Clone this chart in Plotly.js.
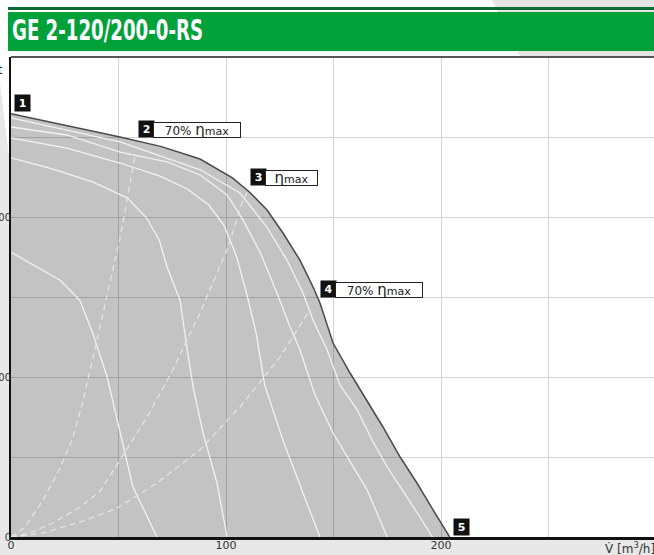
<!DOCTYPE html>
<html>
<head>
<meta charset="utf-8">
<script src="https://cdn.plot.ly/plotly-3.0.1.min.js"></script>
<style>html,body{margin:0;padding:0;background:#e8e8e8;}#chart{width:654px;height:555px;}</style>
</head>
<body>
<div id="chart"></div>
<script>
// ---- data (flow V in m3/h, total pressure dpt in Pa) ----
const chartTitle = "GE 2-120/200-0-RS";
const xTickVals = [0, 100, 200];
const yTickVals = [0, 200, 400];

// maximum speed curve (boundary of the operating area)
const outerX = [0, 25, 50.7, 70, 87.9, 103, 111, 119, 126.5, 134.4, 140.5, 143.7, 147.4, 149.8, 157.7, 165.6, 173, 181, 188.8, 196.3, 204];
const outerY = [529, 515, 500, 488, 472.5, 449, 431, 409, 380, 346, 312.5, 292.5, 262.5, 242.5, 205, 171, 137.5, 100, 67.5, 34, 0];

// reduced speed curves (white solid)
const speedE_X = [0, 50.7, 88, 106.5, 119, 128.4, 135.8, 140.5, 147, 153, 161, 168, 175, 182, 189, 196];
const speedE_Y = [524, 494, 459, 430, 387.5, 346, 305, 271, 234, 190, 159, 121, 87.5, 59, 30, 0];
const speedD_X = [0, 26, 50.7, 72.6, 88, 100.5, 108, 116, 123.7, 129.8, 134.4, 141.4, 149.8, 157.7, 165.6, 175];
const speedD_Y = [512.5, 502.5, 481, 469, 452.5, 427.5, 396, 355, 305, 262.5, 234, 177.5, 130, 94, 59, 0];
const speedC_X = [0, 26, 50.7, 69.3, 82, 92, 99, 105, 110, 114, 118, 126.5, 135.8, 143.7];
const speedC_Y = [499, 486, 467.5, 451, 435, 415, 390, 350, 300, 255, 190, 121, 55, 0];
const speedB_X = [0, 18, 38, 54, 63, 69, 72.6, 78.6, 82, 84.7, 89.3, 95.8, 100.5];
const speedB_Y = [474, 461, 444, 424, 399, 371, 337.5, 296, 234, 187.5, 130, 67.5, 0];
const speedA_X = [0, 10.2, 22.8, 32, 38, 44.7, 50.7, 56.7, 67.9];
const speedA_Y = [356, 340, 321, 296, 255, 200, 130, 62.5, 0];

// system / efficiency curves (white dashed)
const sys1X = [0, 6.5, 14.9, 22.8, 28.4, 33, 37.7, 41.9, 46.5, 51.2, 54, 56.3, 57.7];
const sys1Y = [0, 12.5, 46, 86, 121, 165, 219, 269, 321, 380, 421, 455, 477.5];
const sys2X = [0, 8.8, 19.5, 32.1, 41.4, 50.7, 63.3, 75.3, 87.9, 100.5, 107.9, 109.8];
const sys2Y = [0, 5, 17.5, 37.5, 57.5, 96, 150, 209, 280, 359, 421, 431];
const sys3X = [0, 14.9, 33.5, 49.3, 67.9, 87.9, 106.5, 125.1, 139.1];
const sys3Y = [0, 5, 20, 36, 67.5, 109, 162.5, 225, 284];

// operating point labels
const pointNums = ["1", "2", "3", "4", "5"];
const pointTexts = ["", "70% ", "", "70% ", ""];

// ---- layout helpers (pixel -> paper) ----
const ML = 11, MT = 57, PW = 643, PH = 480;
const xp = px => (px - ML) / PW;
const yp = py => 1 - (py - MT) / PH;

const solid = {color: '#f2f2f2', width: 1.3};
const dashed = {color: '#e4e4e4', width: 1.3, dash: '6px,4px'};

const traces = [
  {x: outerX, y: outerY, mode: 'lines', fill: 'tozeroy', fillcolor: 'rgba(0,0,0,0.235)',
   line: {color: '#4a4a4a', width: 1.5}},
  {x: speedE_X, y: speedE_Y, mode: 'lines', line: solid},
  {x: speedD_X, y: speedD_Y, mode: 'lines', line: solid},
  {x: speedC_X, y: speedC_Y, mode: 'lines', line: solid},
  {x: speedB_X, y: speedB_Y, mode: 'lines', line: solid},
  {x: speedA_X, y: speedA_Y, mode: 'lines', line: solid},
  {x: sys1X, y: sys1Y, mode: 'lines', line: dashed},
  {x: sys2X, y: sys2Y, mode: 'lines', line: dashed},
  {x: sys3X, y: sys3Y, mode: 'lines', line: dashed}
];

// label boxes: [num box left px, bottom py, text box width px]
const boxPos = [[14, 112, 0], [138, 138, 88], [250, 186, 53], [320, 298, 88], [453, 536, 0]];

const annotations = [];
boxPos.forEach((b, i) => {
  annotations.push({xref: 'paper', yref: 'paper', x: xp(b[0]), y: yp(b[1]), xanchor: 'left', yanchor: 'bottom',
    text: pointNums[i], showarrow: false, bgcolor: '#111', borderpad: 1, width: 13, height: 14,
    font: {family: 'DejaVu Sans', size: 11, color: '#fff', weight: 700}});
  if (b[2] > 0) {
    annotations.push({xref: 'paper', yref: 'paper', x: xp(b[0] + 15), y: yp(b[1]), xanchor: 'left', yanchor: 'bottom',
      text: pointTexts[i] + '<span style="font-size:15px">η</span><span style="font-size:11px">max</span>',
      showarrow: false, bgcolor: '#fff', bordercolor: '#222', borderwidth: 1, borderpad: 0,
      width: b[2] - 2, height: 14, align: 'center',
      font: {family: 'DejaVu Sans', size: 12, color: '#222'}});
  }
});

// banner title
annotations.push({xref: 'paper', yref: 'paper', x: xp(12), y: yp(31), xanchor: 'left', yanchor: 'middle',
  text: chartTitle, showarrow: false, name: 'bannerTitle',
  font: {family: 'DejaVu Sans Condensed, DejaVu Sans, sans-serif', size: 28, color: '#fff', weight: 700}});
// axis titles (cropped as in the reference)
annotations.push({xref: 'paper', yref: 'paper', x: xp(5), y: yp(70), xanchor: 'right', yanchor: 'middle',
  text: 'Δpt', showarrow: false, font: {family: 'DejaVu Sans', size: 12, color: '#333'}});
annotations.push({xref: 'paper', yref: 'paper', x: xp(657), y: yp(548), xanchor: 'right', yanchor: 'middle',
  text: 'V̇ [m<sup>3</sup>/h]', showarrow: false, font: {family: 'DejaVu Sans', size: 12, color: '#333'}});

const shapes = [
  {type: 'rect', xref: 'paper', yref: 'paper', x0: xp(0), x1: xp(654), y0: yp(56), y1: yp(0), fillcolor: '#fff', line: {width: 0}, layer: 'below'},
  {type: 'path', xref: 'paper', yref: 'paper', path: `M ${xp(492)} ${yp(0)} L ${xp(654)} ${yp(0)} L ${xp(654)} ${yp(56)} L ${xp(520)} ${yp(56)} Z`, fillcolor: '#e4e4e4', line: {width: 0}, layer: 'below'},
  {type: 'path', xref: 'paper', yref: 'paper', path: `M ${xp(0)} ${yp(56)} L ${xp(10)} ${yp(56)} L ${xp(10)} ${yp(165)} L ${xp(0)} ${yp(82)} Z`, fillcolor: '#fff', line: {width: 0}, layer: 'below'},
  {type: 'rect', xref: 'paper', yref: 'paper', x0: xp(8), x1: xp(654), y0: yp(10), y1: yp(7), fillcolor: '#0b6b34', line: {width: 0}},
  {type: 'rect', xref: 'paper', yref: 'paper', x0: xp(8), x1: xp(654), y0: yp(51), y1: yp(12), fillcolor: '#00a13b', line: {width: 0}},
  {type: 'line', xref: 'paper', yref: 'paper', x0: 0, x1: 1, y0: 1, y1: 1, line: {color: '#555', width: 2}}
];

const layout = {
  width: 654, height: 555,
  margin: {l: ML, r: 0, t: MT, b: 18, pad: 0},
  paper_bgcolor: '#e8e8e8', plot_bgcolor: '#fff',
  showlegend: false, hovermode: false,
  xaxis: {range: [0, PW / 2.15], tickmode: 'array', tickvals: xTickVals, ticktext: xTickVals.map(String),
    showgrid: true, gridcolor: '#d4d4d4', gridwidth: 1, zeroline: false,
    minor: {dtick: 50, tick0: 0, showgrid: true, gridcolor: '#d4d4d4', gridwidth: 1},
    showline: true, linecolor: '#111', linewidth: 2.5, ticks: '', ticklabelstandoff: -4,
    tickfont: {family: 'DejaVu Sans', size: 11, color: '#333'}},
  yaxis: {range: [0, 600], tickmode: 'array', tickvals: yTickVals, ticktext: yTickVals.map(String),
    showgrid: true, gridcolor: '#d4d4d4', gridwidth: 1, zeroline: false,
    minor: {dtick: 100, tick0: 0, showgrid: true, gridcolor: '#d4d4d4', gridwidth: 1},
    showline: true, linecolor: '#111', linewidth: 2, ticks: '', ticklabelstandoff: -4,
    tickfont: {family: 'DejaVu Sans', size: 10, color: '#333'}},
  annotations: annotations,
  shapes: shapes
};

Plotly.newPlot('chart', traces, layout, {displayModeBar: false, staticPlot: true}).then(gd => {
  // narrow the condensed banner title to the reference width, keeping its left edge
  const targetLeft = 12, targetWidth = 191;
  gd.querySelectorAll('text.annotation-text').forEach(t => {
    if (t.textContent === chartTitle) {
      const svg = t.ownerSVGElement;
      const svgBox = svg.getBoundingClientRect();
      t.setAttribute('textLength', String(targetWidth));
      t.setAttribute('lengthAdjust', 'spacingAndGlyphs');
      const after = t.getBoundingClientRect();
      const dx = (targetLeft + svgBox.left) - after.left;
      const cur = t.getAttribute('transform') || '';
      t.setAttribute('transform', cur + ' translate(' + dx.toFixed(1) + ',0)');
    }
  });
});
</script>
</body>
</html>
